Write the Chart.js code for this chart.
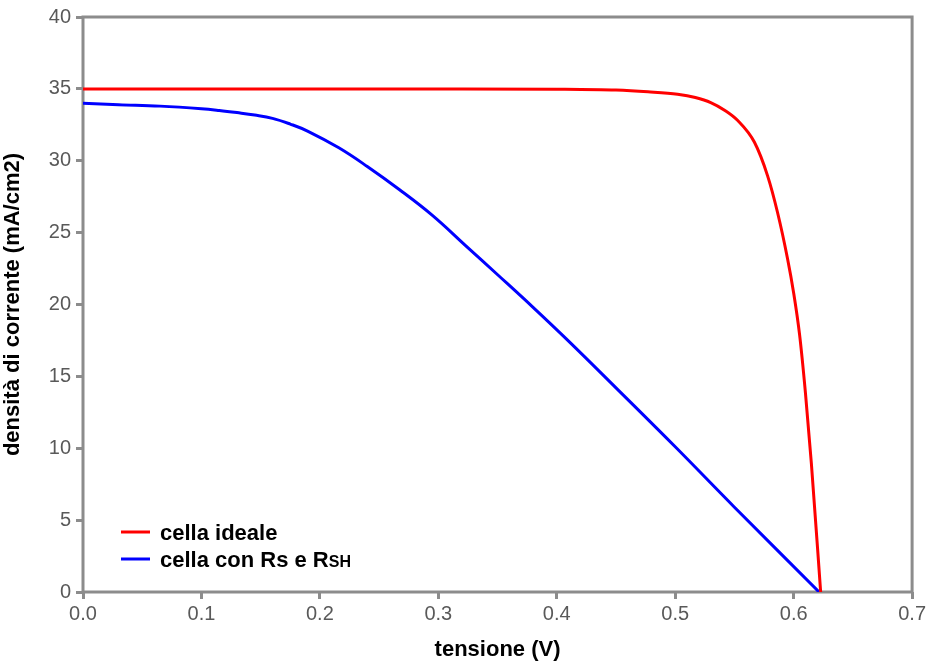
<!DOCTYPE html>
<html>
<head>
<meta charset="utf-8">
<script src="https://cdn.jsdelivr.net/npm/chart.js@4.4.1/dist/chart.umd.min.js"></script>
<style>
html,body{margin:0;padding:0;background:#fff;}
#wrap{width:929px;height:663px;}
</style>
</head>
<body>
<div id="wrap"><canvas id="c" width="929" height="663"></canvas></div>
<script>
// ---- data ----
const idealV = [0, 0.1, 0.2, 0.3, 0.4, 0.45, 0.477, 0.502, 0.517, 0.530, 0.542, 0.5528, 0.5668, 0.578, 0.5864, 0.5948, 0.600, 0.605, 0.610, 0.615, 0.6228];
const idealJ = [35, 35, 35, 35, 34.98, 34.92, 34.8, 34.63, 34.4, 34.05, 33.5, 32.8, 31.3, 28.95, 26.4, 23.2, 20.8, 17.9, 13.8, 8.9, 0];
const realV = [0, 0.03, 0.065, 0.1, 0.115, 0.13, 0.145, 0.16, 0.175, 0.19, 0.216, 0.24, 0.267, 0.295, 0.323, 0.351, 0.38, 0.41, 0.45, 0.5, 0.55, 0.6215];
const realJ = [34.0, 33.9, 33.8, 33.62, 33.5, 33.35, 33.18, 32.95, 32.55, 32.05, 30.9, 29.6, 28.0, 26.2, 24.1, 22.0, 19.8, 17.45, 14.2, 10.1, 5.9, 0];
const seriesNames = ['cella ideale', 'cella con Rs e RSH'];
const xTitle = 'tensione (V)';
const yTitle = 'densità di corrente (mA/cm2)';

const toPts = (xs, ys) => xs.map((x, i) => ({x: x, y: ys[i]}));

const frameColor = '#8c8c8c';
const tickColor = '#595959';
const FONT = 'Arial, "Liberation Sans", sans-serif';

const framePlugin = {
  id: 'frame',
  beforeDatasetsDraw(chart) {
    const {ctx, chartArea: a} = chart;
    ctx.save();
    ctx.strokeStyle = frameColor;
    ctx.lineWidth = 3;
    ctx.strokeRect(a.left, a.top, a.right - a.left, a.bottom - a.top);
    ctx.restore();
  }
};

const legendPlugin = {
  id: 'customLegend',
  afterDraw(chart) {
    const ctx = chart.ctx;
    ctx.save();
    const x0 = 121, x1 = 150, tx = 160;
    const rows = [
      {color: '#ff0000', y: 532, parts: [[seriesNames[0], 22]]},
      {color: '#0000ff', y: 559, parts: [['cella con Rs e R', 22], ['SH', 16]]}
    ];
    rows.forEach(r => {
      ctx.strokeStyle = r.color;
      ctx.lineWidth = 3;
      ctx.beginPath();
      ctx.moveTo(x0, r.y);
      ctx.lineTo(x1, r.y);
      ctx.stroke();
      let x = tx;
      ctx.fillStyle = '#000';
      ctx.textBaseline = 'alphabetic';
      r.parts.forEach(p => {
        ctx.font = 'bold ' + p[1] + 'px ' + FONT;
        ctx.fillText(p[0], x, r.y + 7.5);
        x += ctx.measureText(p[0]).width;
      });
    });
    ctx.restore();
  }
};

new Chart(document.getElementById('c'), {
  type: 'scatter',
  data: {
    datasets: [
      {label: seriesNames[0], data: toPts(idealV, idealJ), showLine: true, borderColor: '#ff0000', borderWidth: 3, pointRadius: 0, cubicInterpolationMode: 'monotone', fill: false},
      {label: seriesNames[1], data: toPts(realV, realJ), showLine: true, borderColor: '#0000ff', borderWidth: 3, pointRadius: 0, tension: 0.4, fill: false}
    ]
  },
  options: {
    responsive: false,
    animation: false,
    layout: {padding: {top: 16, right: 14, left: 0, bottom: 0}},
    plugins: {legend: {display: false}, tooltip: {enabled: false}},
    scales: {
      x: {
        type: 'linear', min: 0, max: 0.7,
        afterFit: s => { s.height = 71; },
        ticks: {stepSize: 0.1, color: tickColor, font: {family: FONT, size: 20}, padding: 3,
          callback: v => v.toFixed(1)},
        grid: {drawOnChartArea: false, drawTicks: true, tickLength: 7, color: frameColor, lineWidth: 3},
        border: {display: false},
        title: {display: true, text: xTitle, color: '#000', font: {family: FONT, size: 22, weight: 'bold'}, padding: {top: 0, bottom: 0}}
      },
      y: {
        type: 'linear', min: 0, max: 40,
        afterFit: s => { s.width = 83; },
        ticks: {stepSize: 5, color: tickColor, font: {family: FONT, size: 20}, padding: 5},
        grid: {drawOnChartArea: false, drawTicks: true, tickLength: 7, color: frameColor, lineWidth: 3},
        border: {display: false},
        title: {display: true, text: yTitle, color: '#000', font: {family: FONT, size: 22, weight: 'bold'}, padding: {top: 0, bottom: 0}}
      }
    }
  },
  plugins: [framePlugin, legendPlugin]
});
</script>
</body>
</html>
